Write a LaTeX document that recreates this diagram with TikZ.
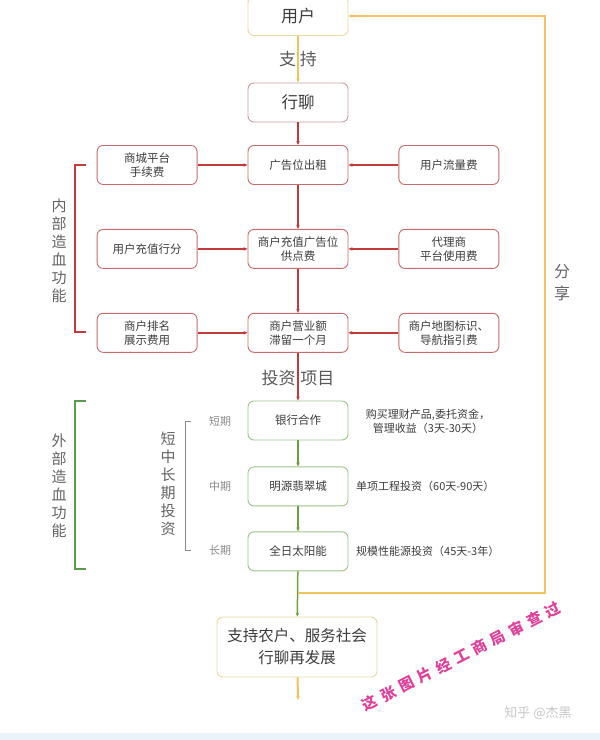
\documentclass[tikz,border=0pt]{standalone}
\usepackage{fontspec}
\setmainfont{Noto Sans CJK SC}
\usepackage{xcolor}
\usetikzlibrary{arrows.meta,positioning,calc}

\definecolor{inkgray}{HTML}{3C3C3C}
\definecolor{softgray}{HTML}{8A8A8A}
\definecolor{redbox}{HTML}{C86A6A}
\definecolor{pinkbox}{HTML}{C8A0A0}
\definecolor{redline}{HTML}{C23A3A}
\definecolor{greenbox}{HTML}{9CC488}
\definecolor{greenline}{HTML}{6E9E40}
\definecolor{greenbrk}{HTML}{5A9A4A}
\definecolor{yellowbox}{HTML}{E8D9A0}
\definecolor{yellowline}{HTML}{F0C35C}
\definecolor{stamppink}{HTML}{E0409A}
\definecolor{stripblue}{HTML}{EAF2FA}

\begin{document}
\begin{tikzpicture}[x=1pt, y=-1pt,
  node distance=44pt and 50pt,
  box/.style={rectangle, draw=redbox, line width=0.9pt, fill=white, rounded corners=6pt,
              font=\fontsize{11.5}{14}\selectfont, text=inkgray, minimum width=100pt,
              minimum height=39pt, align=center, inner sep=2pt},
  gbox/.style={box, draw=greenbox},
  ybox/.style={box, draw=yellowbox},
  rarr/.style={-{Stealth[length=4pt,width=3.5pt]}, line width=1.5pt, redline},
  garr/.style={-{Stealth[length=4pt,width=3.5pt]}, line width=1.5pt, greenline},
  yarr/.style={-{Stealth[length=4pt,width=3.5pt]}, line width=2pt, yellowline},
  vtext/.style={align=center, text=inkgray!80, font=\fontsize{15}{18}\selectfont, inner sep=0pt},
  side/.style={text=inkgray, font=\fontsize{11}{14}\selectfont, align=center, inner sep=0pt},
  term/.style={text=softgray, font=\fontsize{11}{13}\selectfont, inner sep=0pt},
  stampch/.style={rotate=27, text=stamppink, font=\fontsize{15}{15}\selectfont\bfseries, inner sep=0pt}
]
\useasboundingbox (0,0) rectangle (600,740);
\fill[stripblue] (0,733) rectangle (600,740);

% top part
\node[ybox, font=\fontsize{17}{19}\selectfont] (user) at (298,16) {用户};
\node[box, draw=pinkbox, font=\fontsize{16.5}{19}\selectfont] (hl) at (298,102.5) {行聊};

% internal income
\node[box] (ad) at (298,165) {广告位出租};
\node[box, below=of ad] (pay) {商户充值广告位\\供点费};
\node[box, below=of pay] (turn) {商户营业额\\滞留一个月};
\node[box, left=of ad] (mall) {商城平台\\手续费};
\node[box, right=of ad] (flow) {用户流量费};
\node[box, left=of pay] (topup) {用户充值行分};
\node[box, right=of pay] (agent) {代理商\\平台使用费};
\node[box, left=of turn] (rank) {商户排名\\展示费用};
\node[box, right=of turn] (maptag) {商户地图标识、\\导航指引费};

% external income
\node[gbox] (bank) at (298,420.5) {银行合作};
\node[gbox, below=26pt of bank] (jade) {明源翡翠城};
\node[gbox, below=25pt of jade] (solar) {全日太阳能};
\node[ybox, minimum width=160pt, minimum height=60pt,
      font=\fontsize{15.5}{22}\selectfont] (final) at (297,647) {支持农户、服务社会\\行聊再发展};

\node[term] (short) at (220,421) {短期};
\node[term] (mid) at (220,486) {中期};
\node[term] (long) at (220,550) {长期};
\node[side] (bankinfo) at (428,421) {购买理财产品,委托资金，\\管理收益（3天-30天）};
\node[side, anchor=west] (jadeinfo) at (356,486) {单项工程投资（60天-90天）};
\node[side, anchor=west] (solarinfo) at (356,551) {规模性能源投资（45天-3年）};

% connectors
\draw[yarr] (user) -- (hl) node[midway, text=inkgray!85, font=\fontsize{17}{19}\selectfont] {支\hspace{4pt}持};
\draw[rarr] (hl) -- (ad);
\draw[rarr] (ad) -- (pay);
\draw[rarr] (pay) -- (turn);
\draw[rarr] (turn) -- (bank) node[midway, yshift=-1pt, text=inkgray!85, font=\fontsize{17}{19}\selectfont] {投资\hspace{5pt}项目};
\foreach \src/\dst in {mall/ad, flow/ad, topup/pay, agent/pay, rank/turn, maptag/turn}
  \draw[rarr] (\src) -- (\dst);
\draw[garr] (bank) -- (jade);
\draw[garr] (jade) -- (solar);
\draw[garr] (solar) -- (final);

\coordinate (join) at (298,593);
\coordinate (corner) at (545,593);
\coordinate (tail) at (298,700);
\draw[yarr] (join) -- (corner) |- (user.east);
\draw[yarr] (final) -- (tail);
\node[vtext, font=\fontsize{16}{22}\selectfont] (share) at (562,283) {分\\享};

% brackets and side labels
\draw[redline, line width=1.5pt] (86,165) -- (75,165) -- (75,332) -- (86,332);
\node[vtext] (inner) at (59,251) {内\\部\\造\\血\\功\\能};
\draw[greenbrk, line width=1.5pt] (86,401) -- (75,401) -- (75,569) -- (86,569);
\node[vtext] (outer) at (59,486) {外\\部\\造\\血\\功\\能};
\draw[softgray, line width=0.8pt] (191,421) -- (185,421) -- (185,550) -- (191,550);
\node[vtext] (terms) at (168,484) {短\\中\\长\\期\\投\\资};

% stamp and watermark
\coordinate (stampstart) at (370,703);
\foreach \ch [count=\i from 0] in {这,张,图,片,经,工,商,局,审,查,过}
  \node[stampch] (stamp\i) at ($(stampstart)+(-27:\i*20.5)$) {\ch};
\node[text=black!22, font=\fontsize{13}{15}\selectfont] (mark) at (538,713) {知乎 @杰黑};
\end{tikzpicture}
\end{document}
